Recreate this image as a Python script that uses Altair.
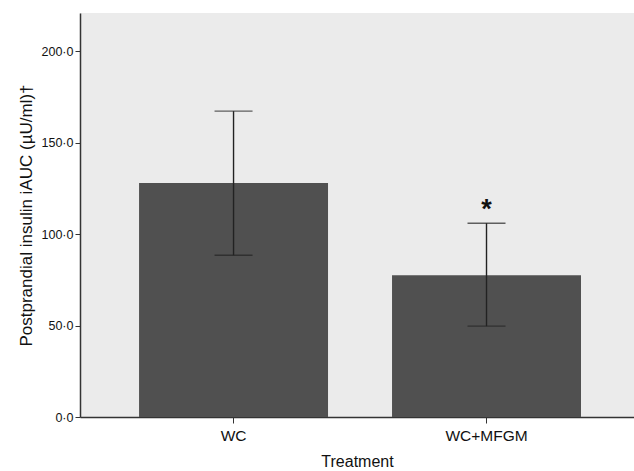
import altair as alt
import pandas as pd

treatments = ["WC", "WC+MFGM"]
means = [128.0, 77.6]
lowers = [88.5, 49.7]
uppers = [167.3, 106.0]
marks = ["", "*"]

df = pd.DataFrame({"Treatment": treatments, "mean": means, "lo": lowers, "hi": uppers, "sig": marks})

xscale = alt.Scale(domain=treatments, paddingInner=0.253, paddingOuter=0.2215, align=0.527)
yscale = alt.Scale(domain=[0, 221], nice=False)

x = alt.X("Treatment:N", scale=xscale, sort=treatments,
          axis=alt.Axis(title="Treatment", labelAngle=0, labelFontSize=15.5, labelColor="#111",
                        titleFontSize=16, titleFontWeight="normal", titleColor="#111",
                        titlePadding=10, labelPadding=5, tickSize=6, tickColor="#333",
                        domainColor="#333", domainWidth=1.5, labelFont="Liberation Sans",
                        titleFont="Liberation Sans", grid=False))
yaxis = alt.Axis(title="Postprandial insulin iAUC (µU/ml)†", values=[0, 50, 100, 150, 200],
                 labelExpr="replace(format(datum.value, '.1f'), '.', '·')",
                 labelFontSize=12.5, labelColor="#111", titleFontSize=17, titleFontWeight="normal",
                 titleColor="#111", titlePadding=6, tickSize=5, tickColor="#333",
                 domainColor="#333", domainWidth=1.5, labelFont="Liberation Sans",
                 titleFont="Liberation Sans", grid=False, labelPadding=2)

bars = alt.Chart(df).mark_bar(color="#505050").encode(
    x=x, y=alt.Y("mean:Q", scale=yscale, axis=yaxis))
rules = alt.Chart(df).mark_rule(color="#222", strokeWidth=1.4).encode(
    x=alt.X("Treatment:N", scale=xscale, sort=treatments), y="lo:Q", y2="hi:Q")
caps_hi = alt.Chart(df).mark_tick(color="#222", size=38, thickness=1.4).encode(
    x=alt.X("Treatment:N", scale=xscale, sort=treatments), y="hi:Q")
caps_lo = alt.Chart(df).mark_tick(color="#222", size=38, thickness=1.4).encode(
    x=alt.X("Treatment:N", scale=xscale, sort=treatments), y="lo:Q")
stars = alt.Chart(df).mark_text(fontSize=27, fontWeight="bold", color="#111", baseline="middle", dy=-13,
                                font="Liberation Sans").encode(
    x=alt.X("Treatment:N", scale=xscale, sort=treatments), y="hi:Q", text="sig:N")

chart = alt.layer(bars, rules, caps_hi, caps_lo, stars).properties(
    width=554, height=404,
    autosize=alt.AutoSizeParams(type="none"),
    padding={"left": 80, "top": 13, "right": 0, "bottom": 54},
    background="white",
).configure_view(fill="#ebebeb", stroke=None)

chart.save("out.html", embed_options={"renderer": "svg", "actions": False})
